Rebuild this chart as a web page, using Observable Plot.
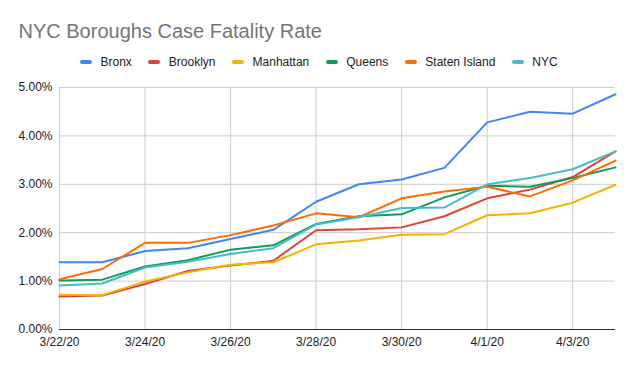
<!DOCTYPE html>
<html>
<head>
<meta charset="utf-8">
<script src="https://cdn.jsdelivr.net/npm/d3@7"></script>
<script src="https://cdn.jsdelivr.net/npm/@observablehq/plot@0.6"></script>
<style>
  html, body { margin: 0; padding: 0; background: #fff; }
  #wrap { width: 634px; height: 368px; position: relative; overflow: hidden; font-family: "Liberation Sans", Arial, sans-serif; }
  #head { position: relative; height: 75px; }
  #title { position: absolute; left: 18.5px; top: 21px; font-size: 20px; line-height: 20px; color: #757575; white-space: nowrap; }
  #legend { position: absolute; left: 80px; top: 55px; display: flex; align-items: center; font-size: 12px; line-height: 14px; color: #222; white-space: nowrap; }
  .item { display: flex; align-items: center; margin-right: 16.5px; }
  .sw { width: 12px; height: 4px; border-radius: 2px; margin-right: 8.5px; }
</style>
</head>
<body>
<div id="wrap">
  <div id="head">
    <div id="title">NYC Boroughs Case Fatality Rate</div>
    <div id="legend"></div>
  </div>
  <div id="chart"></div>
</div>
<script>
const dates = ["2020-03-22","2020-03-23","2020-03-24","2020-03-25","2020-03-26","2020-03-27","2020-03-28","2020-03-29","2020-03-30","2020-03-31","2020-04-01","2020-04-02","2020-04-03","2020-04-04"];
const seriesNames = ["Bronx","Brooklyn","Manhattan","Queens","Staten Island","NYC"];
const seriesColors = ["#4285F4","#DB4437","#F4B400","#0F9D58","#FF6D01","#46BDC6"];
// values in percent
const bronx     = [1.39,1.39,1.62,1.68,1.87,2.06,2.64,3.00,3.10,3.34,4.28,4.50,4.46,4.86];
const brooklyn  = [0.68,0.70,0.94,1.21,1.32,1.42,2.05,2.07,2.11,2.34,2.71,2.89,3.15,3.68];
const manhattan = [0.72,0.71,0.99,1.18,1.34,1.39,1.76,1.84,1.96,1.97,2.36,2.40,2.62,2.99];
const queens    = [1.01,1.03,1.30,1.43,1.65,1.74,2.18,2.34,2.38,2.73,2.97,2.95,3.13,3.35];
const staten    = [1.04,1.25,1.79,1.79,1.95,2.15,2.40,2.32,2.71,2.85,2.95,2.75,3.08,3.49];
const nyc       = [0.91,0.95,1.28,1.40,1.56,1.68,2.17,2.32,2.51,2.52,3.00,3.13,3.31,3.68];
const yTicks = [0, 0.01, 0.02, 0.03, 0.04, 0.05];
const xTickDates = ["2020-03-22","2020-03-24","2020-03-26","2020-03-28","2020-03-30","2020-04-01","2020-04-03"];

const allValues = [bronx, brooklyn, manhattan, queens, staten, nyc];
const rows = [];
seriesNames.forEach((name, i) => {
  allValues[i].forEach((v, j) => rows.push({series: name, date: new Date(dates[j] + "T00:00:00Z"), value: v / 100}));
});
const xTicks = xTickDates.map(d => new Date(d + "T00:00:00Z"));

// legend
const legend = document.getElementById("legend");
seriesNames.forEach((name, i) => {
  const it = document.createElement("div");
  it.className = "item";
  const sw = document.createElement("span");
  sw.className = "sw";
  sw.style.background = seriesColors[i];
  const tx = document.createElement("span");
  tx.textContent = name;
  it.appendChild(sw); it.appendChild(tx);
  legend.appendChild(it);
});

const fmt = d3.utcFormat("%-m/%-d/%y");
const chart = Plot.plot({
  width: 634,
  height: 293,
  marginTop: 12,
  marginBottom: 39,
  marginLeft: 59,
  marginRight: 19,
  style: { fontFamily: "'Liberation Sans', Arial, sans-serif", fontSize: "12px", color: "#222", background: "#fff" },
  x: { type: "utc", domain: [new Date("2020-03-22T00:00:00Z"), new Date("2020-04-04T00:00:00Z")] },
  y: { domain: [0, 0.05] },
  color: { domain: seriesNames, range: seriesColors },
  marks: [
    Plot.gridY(yTicks, { stroke: "#cccccc", strokeOpacity: 1, strokeWidth: 1 }),
    Plot.gridX(xTicks, { stroke: "#cccccc", strokeOpacity: 1, strokeWidth: 1 }),
    Plot.axisY(yTicks, { tickSize: 0, tickPadding: 7, tickFormat: d3.format(".2%"), label: null, fill: "#222" }),
    Plot.axisX(xTicks, { tickSize: 0, tickPadding: 8, tickFormat: fmt, label: null, fill: "#222" }),
    Plot.ruleY([0], { stroke: "#333", strokeWidth: 1 }),
    Plot.line(rows, { x: "date", y: "value", z: "series", stroke: "series", strokeWidth: 2 })
  ]
});
document.getElementById("chart").appendChild(chart);
</script>
</body>
</html>
